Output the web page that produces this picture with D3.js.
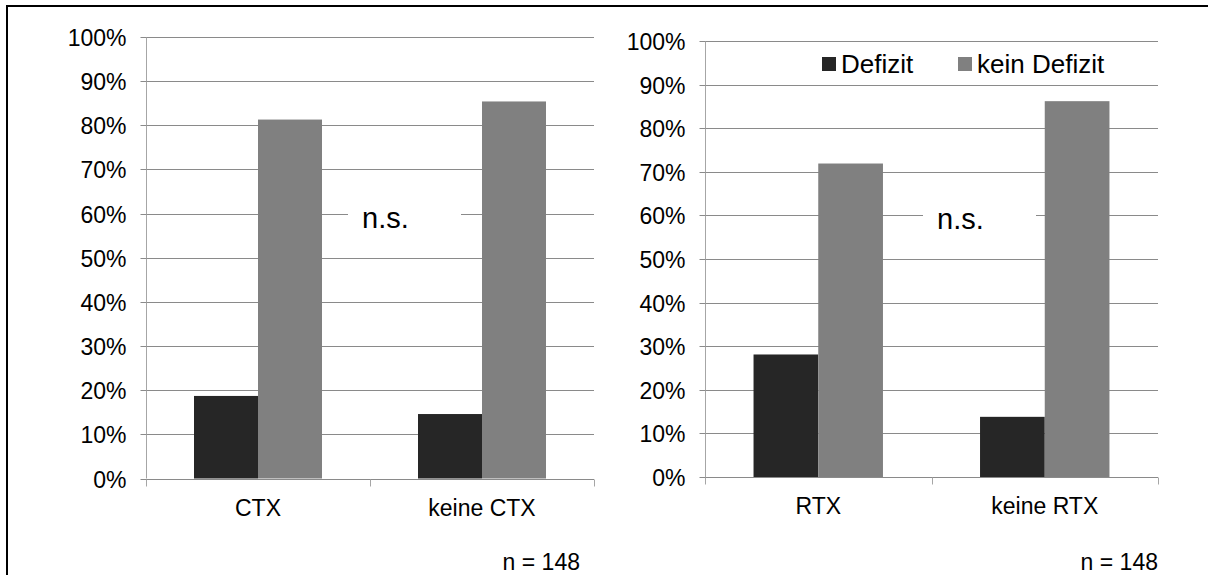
<!DOCTYPE html>
<html><head><meta charset="utf-8">
<script src="https://cdn.jsdelivr.net/npm/d3@7"></script>
<style>
html,body{margin:0;padding:0;background:#fff;}
svg{display:block;font-family:"Liberation Sans",Arial,sans-serif;}
</style></head>
<body>
<svg id="chart" width="1208" height="575"></svg>
<script>
const series = ["Defizit", "kein Defizit"];
const seriesColors = ["#262626", "#808080"];
const categoriesLeft = ["CTX", "keine CTX"];
const defizitLeft = [0.187, 0.146];
const keinDefizitLeft = [0.813, 0.854];
const categoriesRight = ["RTX", "keine RTX"];
const defizitRight = [0.281, 0.138];
const keinDefizitRight = [0.719, 0.862];
const yTicks = [0, 0.1, 0.2, 0.3, 0.4, 0.5, 0.6, 0.7, 0.8, 0.9, 1.0];
const sigLabel = "n.s.";
const nLabel = "n = 148";

const svg = d3.select("#chart");
const FONT = 23;

// outer frame (top and left edges visible)
svg.append("line").attr("x1", 7).attr("x2", 1208).attr("y1", 6).attr("y2", 6).attr("stroke", "#000").attr("stroke-width", 2);
svg.append("line").attr("x1", 7).attr("x2", 7).attr("y1", 5).attr("y2", 575).attr("stroke", "#000").attr("stroke-width", 2);

function panel(cfg) {
  const g = svg.append("g");
  const y = d3.scaleLinear().domain([0, 1]).range([cfg.y0, cfg.y1]);
  const x0 = d3.scaleBand().domain(cfg.categories).range([cfg.x0, cfg.x1]).paddingInner(0).paddingOuter(0);
  const x1 = d3.scaleBand().domain(series).range([0, x0.bandwidth()]).paddingInner(0).paddingOuter(0.75);

  // gridlines
  g.append("g").selectAll("line").data(yTicks.filter(d => d > 0)).join("line")
    .attr("x1", cfg.x0).attr("x2", cfg.x1)
    .attr("y1", d => Math.round(y(d)) + 0.5).attr("y2", d => Math.round(y(d)) + 0.5)
    .attr("stroke", "#8a8a8a").attr("stroke-width", 1);

  // y axis
  const yAxis = d3.axisLeft(y).tickValues(yTicks).tickFormat(d3.format(".0%")).tickSize(6).tickPadding(14);
  const ya = g.append("g").attr("transform", `translate(${cfg.x0 + 0.5},0)`).call(yAxis);
  ya.select(".domain").attr("stroke", "#a6a6a6").attr("d", `M0,${y(0)}V${y(1)}`);
  ya.selectAll(".tick line").attr("stroke", "#8a8a8a");
  ya.selectAll(".tick").attr("transform", d => `translate(0,${Math.round(y(d)) + 0.5})`);
  ya.selectAll("text").attr("font-size", FONT).attr("fill", "#000").attr("font-family", "Liberation Sans, Arial, sans-serif").attr("dy", "0.35em");

  // bars
  const rows = cfg.categories.map((c, i) => ({cat: c, vals: [cfg.defizit[i], cfg.kein[i]]}));
  const grp = g.append("g").selectAll("g").data(rows).join("g")
    .attr("transform", d => `translate(${x0(d.cat)},0)`);
  grp.selectAll("rect").data(d => d.vals.map((v, j) => ({s: series[j], v, j}))).join("rect")
    .attr("x", d => x1(d.s)).attr("width", x1.bandwidth())
    .attr("y", d => y(d.v)).attr("height", d => y(0) - y(d.v))
    .attr("fill", d => seriesColors[d.j]);

  // x axis
  const xAxis = d3.axisBottom(x0).tickSize(0).tickPadding(20);
  const xa = g.append("g").attr("transform", `translate(0,${Math.round(y(0)) + 0.5})`).call(xAxis);
  xa.select(".domain").attr("stroke", "#8a8a8a").attr("d", `M${cfg.x0},0H${cfg.x1}`);
  xa.selectAll("text").attr("font-size", FONT).attr("fill", "#000").attr("font-family", "Liberation Sans, Arial, sans-serif").attr("dy", "0.71em");
  // boundary ticks between categories
  const bounds = [cfg.x0].concat(cfg.categories.map(c => x0(c) + x0.bandwidth()));
  xa.append("g").selectAll("line").data(bounds).join("line")
    .attr("x1", d => Math.round(d) + 0.5).attr("x2", d => Math.round(d) + 0.5)
    .attr("y1", 0).attr("y2", 7).attr("stroke", "#a6a6a6");

  // significance label with white box
  const yMid = y(0.6);
  g.append("rect").attr("x", cfg.nsBox).attr("y", yMid - 14).attr("width", 113).attr("height", 28).attr("fill", "#fff");
  g.append("text").attr("x", cfg.nsBox + 14).attr("y", yMid + 14).attr("font-size", 29).attr("fill", "#000").text(sigLabel);

  // n label
  g.append("text").attr("x", cfg.nRight).attr("y", 570).attr("text-anchor", "end").attr("font-size", FONT).attr("fill", "#000").text(nLabel);
  return {g, y};
}

panel({categories: categoriesLeft, defizit: defizitLeft, kein: keinDefizitLeft,
  x0: 146, x1: 594, y0: 478.5, y1: 37, nsBox: 348, nRight: 580});
panel({categories: categoriesRight, defizit: defizitRight, kein: keinDefizitRight,
  x0: 705, x1: 1158, y0: 477, y1: 41, nsBox: 923, nRight: 1158});

// legend
const LFONT = 26;
const lg = svg.append("g").attr("transform", "translate(822,64)");
const items = [{s: series[0], c: seriesColors[0], x: 0}, {s: series[1], c: seriesColors[1], x: 136}];
const li = lg.selectAll("g").data(items).join("g").attr("transform", d => `translate(${d.x},0)`);
li.append("rect").attr("x", 0).attr("y", -7).attr("width", 14).attr("height", 14).attr("fill", d => d.c);
li.append("text").attr("x", 19).attr("y", 0).attr("dy", "0.35em").attr("font-size", LFONT).attr("fill", "#000").text(d => d.s);
</script>
</body></html>
